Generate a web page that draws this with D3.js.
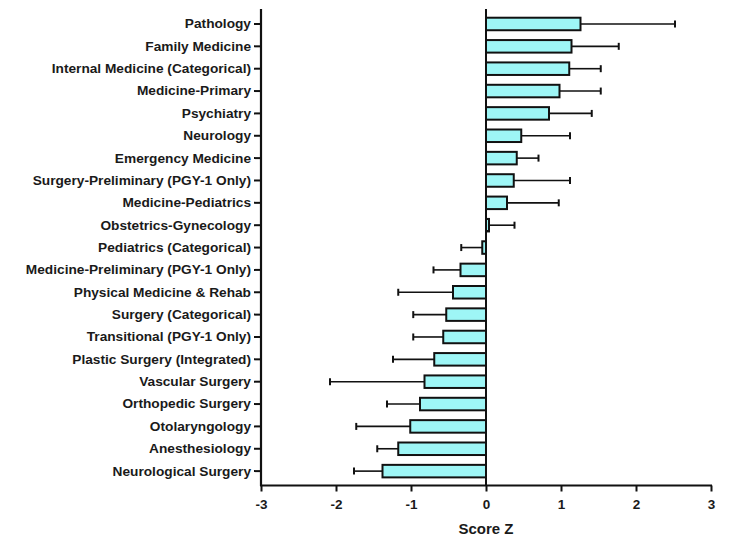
<!DOCTYPE html>
<html><head><meta charset="utf-8">
<script src="https://cdn.jsdelivr.net/npm/d3@7"></script>
<style>body{margin:0;background:#fff;}svg text{font-family:"Liberation Sans",Arial,sans-serif;font-weight:bold;fill:#1a1a1a;}</style>
</head><body><svg id="c" width="750" height="547"></svg>
<script>
const categories = ["Pathology","Family Medicine","Internal Medicine (Categorical)","Medicine-Primary","Psychiatry","Neurology","Emergency Medicine","Surgery-Preliminary (PGY-1 Only)","Medicine-Pediatrics","Obstetrics-Gynecology","Pediatrics (Categorical)","Medicine-Preliminary (PGY-1 Only)","Physical Medicine & Rehab","Surgery (Categorical)","Transitional (PGY-1 Only)","Plastic Surgery (Integrated)","Vascular Surgery","Orthopedic Surgery","Otolaryngology","Anesthesiology","Neurological Surgery"];
const scoreZ = [1.26,1.14,1.11,0.98,0.84,0.47,0.41,0.37,0.28,0.04,-0.05,-0.34,-0.44,-0.53,-0.57,-0.69,-0.82,-0.88,-1.01,-1.17,-1.38];
const errSD = [1.26,0.63,0.42,0.55,0.57,0.65,0.29,0.75,0.69,0.34,0.28,0.36,0.73,0.44,0.40,0.55,1.26,0.44,0.72,0.28,0.38];
const xTicks = [-3,-2,-1,0,1,2,3];
const xTitle = "Score Z";

const svg = d3.select("#c");
const x = d3.scaleLinear().domain([-3,3]).range([261,711]);
const y = d3.scaleBand().domain(categories).range([12.8,482.3]).paddingInner(0.44).paddingOuter(0.22);
const data = categories.map((c,i)=>({c, v:scoreZ[i], e:errSD[i]}));

// error bars
const eg = svg.append("g").attr("stroke","#111").attr("stroke-width",1.6);
data.forEach(d=>{
  const yc = y(d.c)+y.bandwidth()/2;
  const xe = x(d.v + Math.sign(d.v)*d.e);
  eg.append("line").attr("x1",x(d.v)).attr("x2",xe).attr("y1",yc).attr("y2",yc);
  eg.append("line").attr("x1",xe).attr("x2",xe).attr("y1",yc-3.5).attr("y2",yc+3.5).attr("stroke-width",2);
});

// bars
svg.append("g").selectAll("rect").data(data).join("rect")
  .attr("x",d=>Math.min(x(0),x(d.v)))
  .attr("width",d=>Math.abs(x(d.v)-x(0)))
  .attr("y",d=>y(d.c)).attr("height",y.bandwidth())
  .attr("fill","#9ef6f6").attr("stroke","#111").attr("stroke-width",2);

// zero line
svg.append("line").attr("x1",x(0)).attr("x2",x(0)).attr("y1",9).attr("y2",486).attr("stroke","#111").attr("stroke-width",2);

// y axis
const ya = svg.append("g").attr("transform","translate(261,0)").call(d3.axisLeft(y).tickSize(7).tickPadding(3));
ya.select(".domain").attr("d","M0,9V486").attr("stroke","#111").attr("stroke-width",2.2);
ya.selectAll(".tick line").attr("stroke","#111").attr("stroke-width",2);
ya.selectAll(".tick text").style("font-size","13.7px").attr("fill","#1a1a1a");

// x axis
const xa = svg.append("g").attr("transform","translate(0,485.5)").call(d3.axisBottom(x).tickValues(xTicks).tickFormat(d=>String(d)).tickSize(6).tickPadding(8));
xa.select(".domain").attr("d","M260,0H712").attr("stroke","#111").attr("stroke-width",2.2);
xa.selectAll(".tick line").attr("stroke","#111").attr("stroke-width",2);
xa.selectAll(".tick text").style("font-size","13.5px").attr("fill","#1a1a1a");

svg.append("text").attr("x",x(0)).attr("y",533.5).attr("text-anchor","middle").style("font-size","15px").text(xTitle);
</script></body></html>
